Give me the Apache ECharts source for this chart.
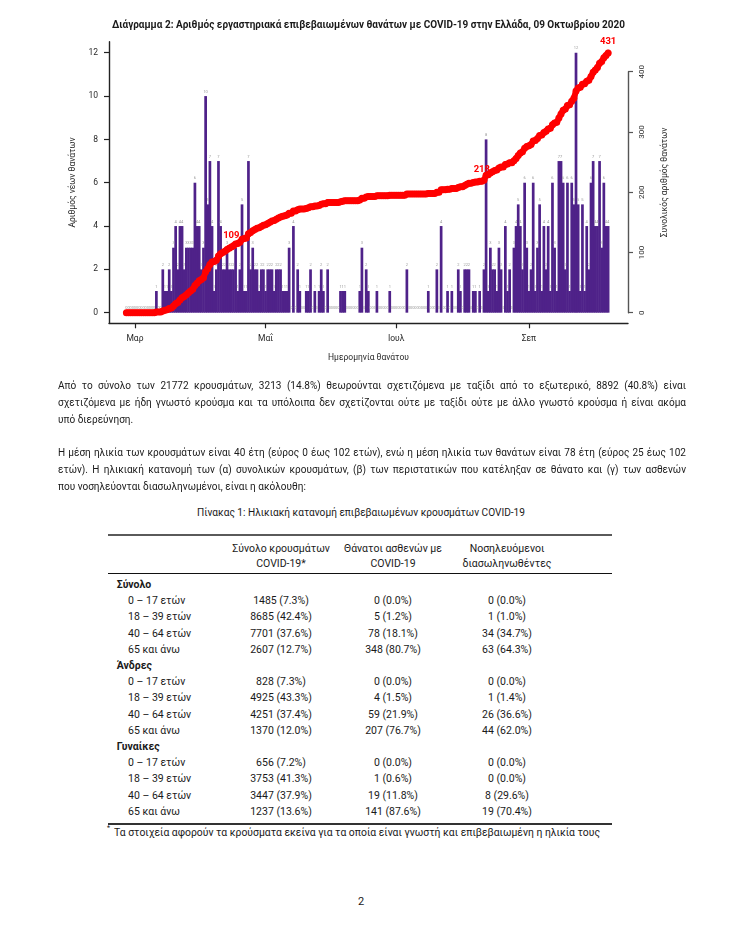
<!DOCTYPE html>
<html>
<head>
<meta charset="utf-8">
<script src="https://cdn.jsdelivr.net/npm/echarts@6.0.0/dist/echarts.min.js"></script>
<style>
  html,body{margin:0;padding:0;background:#fff;}
  body{width:749px;height:952px;position:relative;overflow:hidden;font-family:Roboto,"Noto Sans",sans-serif;color:#1a1a1a;}
  #chart{position:absolute;left:0;top:0;width:749px;height:380px;}
  .abs{position:absolute;white-space:nowrap;}
  .scl{transform-origin:0 50%;display:inline-block;}
  .pl{position:absolute;left:58px;font-size:11px;line-height:17px;height:17px;white-space:nowrap;}
  .rule{position:absolute;left:108px;width:504px;}
  table{position:absolute;left:108px;width:504px;border-collapse:collapse;table-layout:fixed;font-size:10.5px;}
  td{padding:0;white-space:nowrap;}
  .hd td{text-align:center;vertical-align:top;line-height:15px;padding-top:4.5px;height:33.5px;}
  .bd td{height:16.2px;line-height:16.2px;text-align:center;}
  .bd td.lab{text-align:left;padding-left:20px;}
  .bd td.sec{text-align:left;padding-left:8.7px;font-weight:bold;}
</style>
</head>
<body>
<div id="chart"></div>
<div class="abs" style="left:112px;top:17px;height:16px;line-height:16px;font-size:10.5px;font-weight:bold;z-index:3;">
  <span class="scl" data-fit="513">Διάγραμμα 2: Αριθμός εργαστηριακά επιβεβαιωμένων θανάτων με COVID-19 στην Ελλάδα, 09 Οκτωβρίου 2020</span>
</div>

<div class="pl jus" style="top:376.5px;">Από το σύνολο των 21772 κρουσμάτων, 3213 (14.8%) θεωρούνται σχετιζόμενα με ταξίδι από το εξωτερικό, 8892 (40.8%) είναι</div>
<div class="pl jus" style="top:393.5px;">σχετιζόμενα με ήδη γνωστό κρούσμα και τα υπόλοιπα δεν σχετίζονται ούτε με ταξίδι ούτε με άλλο γνωστό κρούσμα ή είναι ακόμα</div>
<div class="pl last" style="top:410.5px;">υπό διερεύνηση.</div>
<div class="pl jus" style="top:443.5px;">Η μέση ηλικία των κρουσμάτων είναι 40 έτη (εύρος 0 έως 102 ετών), ενώ η μέση ηλικία των θανάτων είναι 78 έτη (εύρος 25 έως 102</div>
<div class="pl jus" style="top:460.5px;">ετών). Η ηλικιακή κατανομή των (α) συνολικών κρουσμάτων, (β) των περιστατικών που κατέληξαν σε θάνατο και (γ) των ασθενών</div>
<div class="pl last" style="top:477.5px;">που νοσηλεύονται διασωληνωμένοι, είναι η ακόλουθη:</div>

<div class="abs" style="left:197px;top:505px;height:16px;line-height:16px;font-size:11px;">
  <span class="scl" data-fit="328">Πίνακας 1: Ηλικιακή κατανομή επιβεβαιωμένων κρουσμάτων COVID-19</span>
</div>

<div class="rule" style="top:534.3px;height:1.6px;background:#5a5a5a;"></div>
<div class="rule" style="top:572.6px;height:1.1px;background:#111;"></div>
<div class="rule" style="top:823.4px;height:1.5px;background:#333;"></div>

<table class="hd" style="top:536px;">
  <colgroup><col style="width:112px"><col style="width:122px"><col style="width:102px"><col style="width:126px"><col style="width:42px"></colgroup>
  <tr><td></td><td>Σύνολο κρουσμάτων<br>COVID-19*</td><td>Θάνατοι ασθενών με<br>COVID-19</td><td>Νοσηλευόμενοι<br>διασωληνωθέντες</td><td></td></tr>
</table>

<table class="bd" style="top:577px;">
  <colgroup><col style="width:112px"><col style="width:122px"><col style="width:102px"><col style="width:126px"><col style="width:42px"></colgroup>
  <tr><td class="sec">Σύνολο</td><td></td><td></td><td></td><td></td></tr>
  <tr><td class="lab">0 – 17 ετών</td><td>1485 (7.3%)</td><td>0 (0.0%)</td><td>0 (0.0%)</td><td></td></tr>
  <tr><td class="lab">18 – 39 ετών</td><td>8685 (42.4%)</td><td>5 (1.2%)</td><td>1 (1.0%)</td><td></td></tr>
  <tr><td class="lab">40 – 64 ετών</td><td>7701 (37.6%)</td><td>78 (18.1%)</td><td>34 (34.7%)</td><td></td></tr>
  <tr><td class="lab">65 και άνω</td><td>2607 (12.7%)</td><td>348 (80.7%)</td><td>63 (64.3%)</td><td></td></tr>
  <tr><td class="sec">Άνδρες</td><td></td><td></td><td></td><td></td></tr>
  <tr><td class="lab">0 – 17 ετών</td><td>828 (7.3%)</td><td>0 (0.0%)</td><td>0 (0.0%)</td><td></td></tr>
  <tr><td class="lab">18 – 39 ετών</td><td>4925 (43.3%)</td><td>4 (1.5%)</td><td>1 (1.4%)</td><td></td></tr>
  <tr><td class="lab">40 – 64 ετών</td><td>4251 (37.4%)</td><td>59 (21.9%)</td><td>26 (36.6%)</td><td></td></tr>
  <tr><td class="lab">65 και άνω</td><td>1370 (12.0%)</td><td>207 (76.7%)</td><td>44 (62.0%)</td><td></td></tr>
  <tr><td class="sec">Γυναίκες</td><td></td><td></td><td></td><td></td></tr>
  <tr><td class="lab">0 – 17 ετών</td><td>656 (7.2%)</td><td>0 (0.0%)</td><td>0 (0.0%)</td><td></td></tr>
  <tr><td class="lab">18 – 39 ετών</td><td>3753 (41.3%)</td><td>1 (0.6%)</td><td>0 (0.0%)</td><td></td></tr>
  <tr><td class="lab">40 – 64 ετών</td><td>3447 (37.9%)</td><td>19 (11.8%)</td><td>8 (29.6%)</td><td></td></tr>
  <tr><td class="lab">65 και άνω</td><td>1237 (13.6%)</td><td>141 (87.6%)</td><td>19 (70.4%)</td><td></td></tr>
</table>

<div class="abs" style="left:107px;top:824px;font-size:7px;line-height:8px;">*</div>
<div class="abs" style="left:114px;top:825px;height:16px;line-height:16px;font-size:11px;">
  <span class="scl" data-fit="486">Τα στοιχεία αφορούν τα κρούσματα εκείνα για τα οποία είναι γνωστή και επιβεβαιωμένη η ηλικία τους</span>
</div>
<div class="abs" style="left:358px;top:894px;height:16px;line-height:16px;font-size:11px;">2</div>

<script>
// ---------------- data ----------------
const startDate = '2020-02-26';           // first day shown (index 0)
const dailyDeaths = [
  0,0,0,0,0,0,0,0,0,0,
  0,0,0,0,1,0,0,2,1,1,
  2,1,3,4,2,4,4,2,3,3,
  3,3,6,4,4,2,3,10,5,7,
  4,1,2,7,4,2,2,3,2,2,
  2,3,1,2,5,1,1,7,2,3,
  2,2,1,2,2,1,2,2,2,1,
  2,2,2,1,1,1,3,0,4,0,
  2,1,0,0,1,1,2,0,1,0,
  1,2,1,0,2,0,0,0,0,0,
  1,1,1,0,0,0,0,0,0,1,
  3,0,2,1,0,0,0,1,0,0,
  0,0,0,1,0,0,0,0,0,0,
  0,2,0,0,0,0,0,0,0,0,
  0,1,0,0,0,2,0,4,0,0,
  1,0,1,0,0,2,1,0,2,2,
  2,0,1,1,0,1,0,2,8,1,
  3,2,2,1,3,2,0,4,1,2,
  0,3,4,5,4,2,6,3,1,2,
  6,1,3,5,1,4,2,4,1,6,
  3,1,7,7,6,2,6,1,6,5,
  12,5,1,5,1,4,2,6,7,4,
  4,7,3,6,4,4
];
const tickDates   = ['2020-03-01','2020-05-01','2020-07-01','2020-09-01'];
const tickLabels  = ['Μαρ','Μαΐ','Ιουλ','Σεπ'];
const leftTicks   = [0,2,4,6,8,10,12];
const rightTicks  = [0,100,200,300,400];
const labeledDates = ['2020-04-15','2020-08-10','2020-10-08'];

// ---------------- helpers ----------------
function dayIndex(s){
  const a = s.split('-').map(Number), b = startDate.split('-').map(Number);
  return Math.round((Date.UTC(a[0],a[1]-1,a[2]) - Date.UTC(b[0],b[1]-1,b[2]))/86400000);
}
const tickIdx = tickDates.map(dayIndex);
const labeledIdx = labeledDates.map(dayIndex);

const barData = dailyDeaths.map((v,i)=>[i,v]);
let run = 0;
const cumulative = dailyDeaths.map(v => (run += v));
const lineData = cumulative.map((v,i)=> labeledIdx.indexOf(i) >= 0
  ? {value:[i,v], label:{show:true}} : [i,v]);

const FONT = 'Roboto';
const axisText = {fontFamily:FONT, fontSize:8.5, color:'#2a2a2a'};

const chart = echarts.init(document.getElementById('chart'), null, {renderer:'canvas'});
chart.setOption({
  animation:false,
  grid:[
    {left:109, width:519, top:41.7, height:281.6},
    {left:109, width:519, top:71.7, height:241}
  ],
  xAxis:[
    {type:'value', gridIndex:0, min:-8.13, max:234.28, position:'bottom',
     axisLine:{show:true, onZero:false, lineStyle:{color:'#222', width:1.4}},
     axisTick:{show:true, inside:false, length:5, customValues:tickIdx, lineStyle:{color:'#222', width:1.2}},
     minorTick:{show:false},
     axisLabel:Object.assign({customValues:tickIdx, margin:11,
        formatter:v=>{const k=tickIdx.indexOf(Math.round(v)); return k>=0?tickLabels[k]:'';}}, axisText),
     splitLine:{show:false},
     name:'Ημερομηνία θανάτου', nameLocation:'middle', nameGap:30, nameTextStyle:axisText},
    {type:'value', gridIndex:1, min:-8.13, max:234.28, show:false,
     axisLine:{show:false}, axisTick:{show:false}, axisLabel:{show:false}, splitLine:{show:false}}
  ],
  yAxis:[
    {type:'value', gridIndex:0, min:-0.49, max:12.51, position:'left',
     axisLine:{show:true, onZero:false, lineStyle:{color:'#222', width:1.4}},
     axisTick:{show:true, length:5, customValues:leftTicks, lineStyle:{color:'#222', width:1.2}},
     minorTick:{show:false},
     axisLabel:Object.assign({customValues:leftTicks, margin:11}, axisText),
     splitLine:{show:false},
     name:'Αριθμός νέων θανάτων', nameLocation:'middle', nameGap:31, nameRotate:90, nameTextStyle:axisText},
    {type:'value', gridIndex:0, min:-17.59, max:449.8, position:'right',
     axisLine:{show:false}, axisTick:{show:false}, axisLabel:{show:false}, splitLine:{show:false},
     name:'Συνολικός αριθμός θανάτων', nameLocation:'middle', nameGap:32, nameRotate:90, nameTextStyle:axisText},
    {type:'value', gridIndex:1, min:0, max:400, position:'right',
     axisLine:{show:true, onZero:false, lineStyle:{color:'#555', width:1.4}},
     axisTick:{show:true, length:5, customValues:rightTicks, lineStyle:{color:'#555', width:1.2}},
     axisLabel:Object.assign({customValues:rightTicks, margin:10, rotate:90}, axisText, {fontSize:8}),
     splitLine:{show:false}}
  ],
  series:[
    {type:'bar', name:'daily', xAxisIndex:0, yAxisIndex:0, data:barData, barWidth:2.7,
     itemStyle:{color:'#4f2289'},
     label:{show:true, position:'top', distance:2.5, fontSize:4, fontFamily:FONT, color:'#9b9b9b',
            formatter:p=>String(p.value[1])},
     z:2},
    {type:'line', name:'cumulative', xAxisIndex:0, yAxisIndex:1, data:lineData,
     lineStyle:{color:'#ff0000', width:6, cap:'round', join:'round'},
     itemStyle:{color:'#ff0000'},
     symbol:'circle', symbolSize:7, showSymbol:true, showAllSymbol:true,
     label:{show:false, position:'top', distance:3, fontSize:9.5, fontWeight:'bold', fontFamily:FONT, color:'#ff0000',
            formatter:p=>String(p.value[1])},
     z:4}
  ]
});

// ---------------- text fitting ----------------
function fitText(){
  document.querySelectorAll('.scl[data-fit]').forEach(el=>{
    el.style.transform='none';
    const w = el.getBoundingClientRect().width;
    const t = parseFloat(el.getAttribute('data-fit'));
    if (w>0) el.style.transform = 'scaleX(' + (t/w) + ')';
  });
  const target = 628, base = 11;
  const pls = Array.from(document.querySelectorAll('.pl'));
  pls.forEach(el=>{
    el.style.fontSize = base+'px'; el.style.display='inline-block'; el.style.width='auto';
    el.style.whiteSpace='nowrap'; el.style.textAlign='left'; el.style.textAlignLast='auto';
  });
  let fs = base;
  pls.forEach(el=>{
    if (!el.classList.contains('jus')) return;
    const w = el.getBoundingClientRect().width;
    if (w > target*0.985) fs = Math.min(fs, base*target*0.975/w);
  });
  pls.forEach(el=>{
    el.style.fontSize = fs + 'px';
    if (el.classList.contains('jus')) {
      el.style.display='block'; el.style.width=target+'px'; el.style.whiteSpace='normal';
      el.style.textAlign='justify'; el.style.textAlignLast='justify';
    }
  });
}
fitText();
if (document.fonts && document.fonts.ready) { document.fonts.ready.then(fitText); }
</script>
</body>
</html>
